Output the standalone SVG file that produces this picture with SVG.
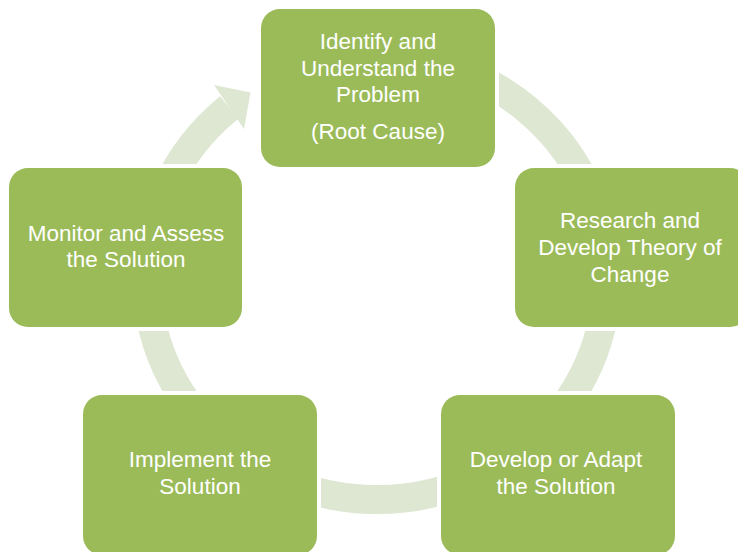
<svg xmlns="http://www.w3.org/2000/svg" width="738" height="552" viewBox="0 0 738 552">
<style>
.box{fill:#9bbb59;stroke:#ffffff;stroke-width:8;paint-order:stroke fill}
.lbl{font-family:"Liberation Sans",Arial,sans-serif;font-size:22.5px;fill:#ffffff;text-anchor:middle}
.ring{fill:none;stroke:#dee7d2;stroke-width:29}
</style>
<rect width="738" height="552" fill="#ffffff"/>
<g id="connectors">
<path class="ring" d="M 317.5 63.1 A 230 222 0 1 1 229.2 107.4"/>
<polygon points="214,85 250.5,92.5 244,129" fill="#dee7d2"/>
</g>
<g id="node-identify">
<rect class="box" x="261" y="9" width="234" height="158" rx="19"/>
<text class="lbl" x="378" y="49">Identify and</text>
<text class="lbl" x="378" y="76">Understand the</text>
<text class="lbl" x="378" y="102">Problem</text>
<text class="lbl" x="378" y="139">(Root Cause)</text>
</g>
<g id="node-research">
<rect class="box" x="515" y="168" width="234" height="159" rx="19"/>
<text class="lbl" x="630" y="228">Research and</text>
<text class="lbl" x="630" y="255">Develop Theory of</text>
<text class="lbl" x="630" y="282">Change</text>
</g>
<g id="node-develop">
<rect class="box" x="441" y="395" width="234" height="160" rx="19"/>
<text class="lbl" x="556" y="467">Develop or Adapt</text>
<text class="lbl" x="556" y="494">the Solution</text>
</g>
<g id="node-implement">
<rect class="box" x="83" y="395" width="234" height="160" rx="19"/>
<text class="lbl" x="200" y="467">Implement the</text>
<text class="lbl" x="200" y="494">Solution</text>
</g>
<g id="node-monitor">
<rect class="box" x="9" y="168" width="233" height="159" rx="19"/>
<text class="lbl" x="126" y="241">Monitor and Assess</text>
<text class="lbl" x="126" y="267">the Solution</text>
</g>
</svg>
